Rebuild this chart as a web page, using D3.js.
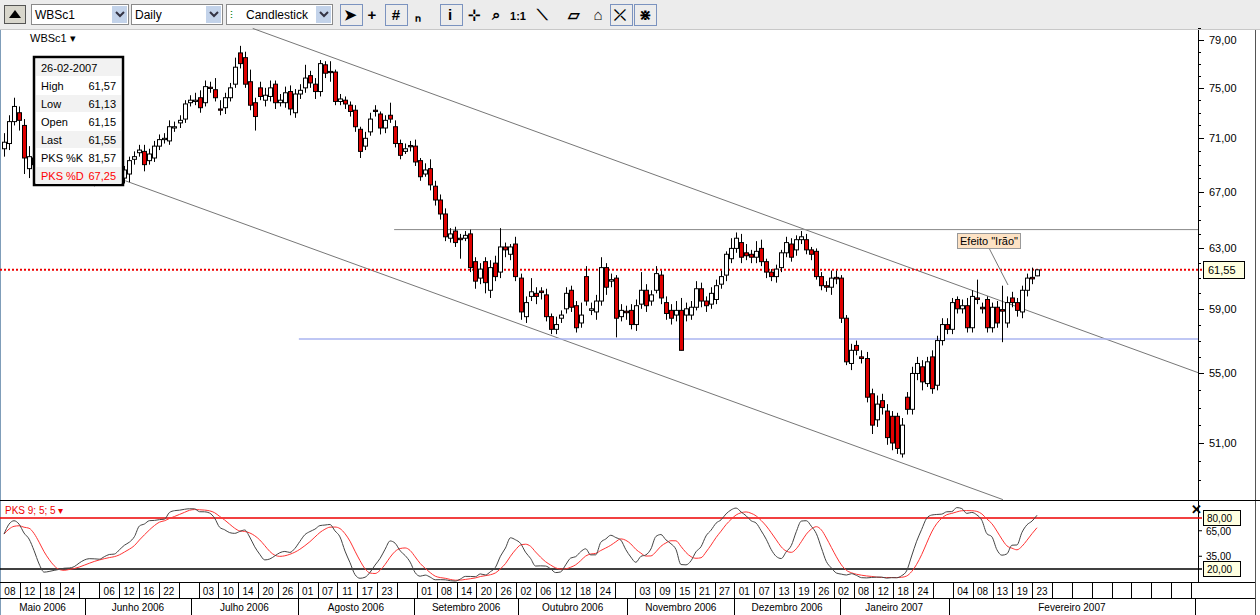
<!DOCTYPE html>
<html><head><meta charset="utf-8">
<script src="https://cdn.jsdelivr.net/npm/d3@7/dist/d3.min.js"></script>
<style>
body{margin:0;background:#fff;overflow:hidden}
svg{display:block;font-family:"Liberation Sans",Arial,sans-serif}
</style></head><body>
<svg id="chart" width="1260" height="615"></svg>
<script>
// price bars, 08-05-2006 .. 26-02-2007
const opens=[70.2,70.6,72.3,73.0,72.0,68.7,69.5,69.0,68.4,68.8,69.5,70.0,69.2,68.6,68.0,68.5,69.1,68.7,68.2,67.8,68.3,68.9,68.5,67.9,
68.0,68.3,69.4,69.9,70.0,69.3,69.5,70.4,70.9,70.8,71.8,72.2,72.5,73.8,73.9,74.2,73.8,75.05,74.85,73.3,73.4,74.2,75.3,77.9,77.5,75.5,
73.8,75.0,74.0,74.3,75.3,73.8,73.8,74.7,73.0,74.5,75.0,76.0,75.3,74.7,76.9,76.35,76.3,73.9,74.0,73.6,73.2,71.7,70.4,71.5,73.2,72.9,
71.8,72.8,71.9,70.6,70.0,70.45,70.4,69.3,68.3,68.7,67.4,66.4,65.4,63.7,64.2,63.7,63.7,64.0,62.1,61.0,62.1,60.2,62.0,61.4,63.1,62.6,
63.3,61.0,58.5,59.8,60.0,60.15,59.9,58.5,57.7,58.4,59.0,60.2,59.2,58.1,61.1,58.9,58.8,59.5,61.7,60.8,61.0,58.5,58.85,58.9,58.0,59.3,
60.2,59.5,60.2,61.2,59.4,58.9,58.6,58.9,58.6,58.6,59.1,60.3,59.5,59.3,59.6,60.6,61.2,62.3,63.0,63.4,62.7,62.6,62.4,63.0,62.1,61.4,
61.1,61.7,62.7,63.3,62.9,63.6,63.6,62.9,62.8,61.1,60.5,60.4,61.05,61.0,58.4,55.6,56.7,56.0,55.9,53.8,52.3,53.4,52.8,52.5,52.5,50.4,
53.6,52.9,55.0,55.4,54.4,56.0,54.3,57.0,58.0,57.7,59.6,59.0,59.2,57.8,59.7,59.1,59.6,57.8,59.1,58.95,58.1,59.7,59.4,58.8,60.2,61.05,61.15];
const closes=[70.7,72.3,73.5,72.4,69.5,69.6,69.0,68.4,68.8,69.5,70.0,69.2,68.6,68.0,68.5,69.1,68.7,68.2,67.8,68.3,68.9,68.5,67.9,68.2,
68.6,69.3,69.6,70.1,69.0,69.8,70.4,70.9,71.0,71.9,71.9,72.4,73.7,74.0,74.0,73.4,75.1,74.95,74.2,73.2,74.2,75.0,76.7,77.0,75.3,73.6,
72.7,74.3,74.4,75.0,73.8,74.0,74.6,73.3,74.5,74.8,75.8,75.4,74.7,77.0,76.2,76.25,73.9,74.1,73.7,73.1,71.9,70.0,71.0,72.5,73.1,71.8,
72.4,72.5,70.6,69.7,70.2,70.35,69.2,68.1,68.6,67.5,66.4,65.4,63.8,64.0,63.4,63.6,63.9,61.7,60.8,61.6,60.7,61.7,61.1,63.1,62.9,63.1,
61.1,58.8,59.4,60.1,59.8,60.05,58.5,57.7,58.0,58.6,60.0,59.1,57.8,58.6,59.5,59.0,59.5,61.7,60.4,60.9,58.4,58.9,58.75,58.0,59.2,60.2,
59.2,59.9,61.3,59.7,58.7,58.4,58.9,56.4,59.0,59.1,60.3,59.5,59.2,60.0,60.5,61.1,62.6,63.0,63.7,62.4,62.5,62.4,62.8,62.1,61.4,61.1,
61.6,62.7,63.4,62.4,63.6,63.8,62.9,62.6,61.1,60.5,60.4,61.0,60.95,58.4,55.7,56.4,56.4,55.9,53.6,52.0,53.2,53.0,51.3,51.0,50.7,52.0,
52.9,55.0,55.6,54.5,55.7,54.1,57.0,58.0,57.7,59.4,59.0,59.2,57.8,59.8,59.6,59.0,57.8,59.1,58.1,58.85,59.4,59.4,58.9,60.2,61.0,60.95,61.55];
const highs=[71.4,72.8,74.2,73.5,72.5,70.4,69.9,69.4,69.2,69.9,70.4,70.4,69.6,69.0,68.9,69.5,69.5,69.1,68.5,68.7,69.3,69.3,68.9,68.6,
68.9,69.6,70.0,70.5,70.5,70.2,70.8,71.3,71.4,72.4,72.3,72.8,74.0,74.4,74.6,74.8,75.6,75.5,75.8,74.0,74.6,75.4,77.5,78.5,78.0,76.5,
74.2,75.5,75.0,75.6,75.6,74.5,75.1,75.2,74.9,75.3,76.9,76.4,75.8,77.3,77.2,77.2,76.5,74.5,74.3,73.9,73.6,71.9,71.5,73.0,73.6,73.1,
72.8,73.8,72.4,70.9,70.6,70.8,70.9,69.5,69.1,69.4,67.8,66.8,65.8,64.4,64.5,64.0,64.2,64.3,62.4,62.0,62.4,62.2,62.5,64.4,63.4,63.3,
63.8,61.3,59.8,61.0,60.4,60.4,60.3,58.7,58.5,58.9,60.4,60.5,59.5,59.4,61.8,59.4,59.9,62.4,62.0,61.3,61.2,59.3,59.2,59.3,59.6,61.4,
60.6,60.2,61.8,61.5,59.8,59.3,59.5,59.7,59.4,59.5,60.8,60.7,59.8,60.4,60.9,61.5,62.8,63.7,64.1,64.0,63.3,62.9,63.5,63.6,62.3,61.6,
61.9,62.9,63.8,63.7,63.9,64.2,64.0,63.1,63.0,61.4,60.8,61.5,61.5,61.2,58.6,56.8,57.0,56.4,56.3,54.1,53.7,53.8,53.2,52.8,52.7,52.4,
53.9,55.4,56.0,55.8,56.0,56.4,57.3,58.4,58.4,59.7,59.8,59.6,59.7,60.2,60.9,59.4,59.8,59.4,59.5,60.5,59.8,60.1,59.7,60.5,61.3,61.7,61.57];
const lows=[69.6,70.1,72.0,71.6,68.3,68.0,68.6,68.0,68.1,68.5,69.2,68.8,68.2,67.6,67.7,68.3,68.3,67.8,67.4,67.5,68.0,68.1,67.5,67.6,
67.6,67.7,69.0,69.6,68.5,69.0,69.2,70.1,70.6,70.5,71.5,71.8,72.2,73.5,73.6,73.0,73.5,74.6,73.9,72.8,72.9,73.9,75.0,76.6,75.0,73.2,
71.6,74.0,73.5,73.9,73.3,73.5,73.4,72.8,72.6,74.1,74.6,75.0,74.1,74.3,75.8,75.5,73.6,73.6,73.3,72.7,71.5,69.5,70.1,71.2,72.7,71.3,
71.4,72.2,70.3,69.4,69.8,70.0,68.9,67.8,68.1,67.1,66.0,65.0,63.5,63.4,63.1,62.3,63.5,61.4,60.3,60.6,60.0,59.7,60.8,61.0,62.4,62.2,
60.8,58.3,58.1,59.5,59.3,59.6,58.2,57.4,57.4,58.1,58.7,58.8,57.5,57.8,59.2,58.6,58.3,59.2,59.9,60.4,57.2,58.2,58.3,57.7,57.6,59.0,
58.8,59.2,60.0,59.3,58.3,58.0,58.2,56.4,58.2,58.3,58.9,59.1,58.8,59.0,59.3,60.3,60.8,62.0,62.7,62.0,62.2,62.0,62.0,61.8,61.0,60.8,
60.7,61.4,62.4,62.1,62.5,63.3,62.6,62.2,60.9,60.2,60.1,59.9,60.6,58.1,55.5,55.2,56.1,55.6,53.3,51.5,51.9,52.6,50.9,50.6,50.4,50.2,
52.6,52.6,54.6,54.0,54.2,53.8,54.0,56.7,57.4,57.4,58.7,58.7,57.5,57.5,59.3,58.7,57.5,57.5,57.8,56.9,57.8,59.1,58.5,58.4,59.8,60.6,61.13];

const priceTicks=[51,55,59,63,67,71,75,79];
const priceTickLabels=["51,00","55,00","59,00","63,00","67,00","71,00","75,00","79,00"];
const dayLabels=["08","12","18","24","","06","12","16","22","","03","10","14","20","26","01","07","11","17","23","",
"01","08","14","20","26","02","06","12","18","24","","03","09","15","21","27","01","07","13","19","26","02","08","12","18","24","",
"04","08","13","19","23","","","","","","","",""];
const monthNames=["Maio 2006","Junho 2006","Julho 2006","Agosto 2006","Setembro 2006","Outubro 2006","Novembro 2006","Dezembro 2006","Janeiro 2007","Fevereiro 2007"];
const monthEdges=[0,4.28,9.62,15.0,20.86,26.1,31.6,37.0,42.3,47.8,60.2];
const lastPrice=61.55;
const infoRows=[["26-02-2007",""],["High","61,57"],["Low","61,13"],["Open","61,15"],["Last","61,55"],["PKS %K","81,57"],["PKS %D","67,25"]];

const svg=d3.select("#chart");
const plotRight=1198;

const x=d3.scaleLinear().domain([0,206]).range([4,1037]);
const y=d3.scaleLog().domain([51,79]).range([443,40]);
const ys=d3.scaleLinear().domain([0,100]).range([586,501]);
const cx=d3.scaleLinear().domain([0,60]).range([0,1191]);

// toolbar
svg.append("rect").attr("x",0).attr("y",0).attr("width",1260).attr("height",29).attr("fill","#ececec");
svg.append("line").attr("x1",0).attr("x2",1260).attr("y1",29.5).attr("y2",29.5).attr("stroke","#c8c8c8");
svg.append("rect").attr("x",4.5).attr("y",5.5).attr("width",21).attr("height",18).attr("fill","#d8d6cc").attr("stroke","#555");
svg.append("path").attr("d","M9,18 L15,10 L21,18Z").attr("fill","#000");
const combos=[[31,97,"WBSc1"],[131,91,"Daily"],[226,106,"Candlestick"]];
combos.forEach(c=>{
  svg.append("rect").attr("x",c[0]+0.5).attr("y",4.5).attr("width",c[1]).attr("height",20).attr("fill","#fff").attr("stroke","#8a8a8a");
  svg.append("rect").attr("x",c[0]+c[1]-16).attr("y",6).attr("width",15).attr("height",17).attr("fill","#c3d3ea");
  svg.append("path").attr("d",`M${c[0]+c[1]-12},12 l4,4 l4,-4`).attr("fill","none").attr("stroke","#334").attr("stroke-width",2);
  svg.append("text").attr("x",c[0]+(c[2]=="Candlestick"?20:4)).attr("y",19).attr("font-size",12).text(c[2]);
});
svg.append("text").attr("x",230).attr("y",19).attr("font-size",11).attr("fill","#070").text("⫶");
const icons=[[350,"➤"],[372,"+"],[396,"#"],[418,"ₙ"],[450,"i"],[474,"⊹"],[496,"⌕"],[518,"1:1"],[542,"⟍"],[574,"▱"],[598,"⌂"],[620,"⤫"],[645,"⋇"]];
icons.forEach(ic=>svg.append("text").attr("x",ic[0]).attr("y",20).attr("text-anchor","middle").attr("font-size",ic[1]=="1:1"?11:15).attr("font-weight","bold").text(ic[1]));
[[340,22],[385,22],[440,22],[610,22],[634,22]].forEach(b=>svg.append("rect").attr("x",b[0]+0.5).attr("y",4.5).attr("width",b[1]).attr("height",21).attr("fill","none").attr("stroke","#7b93bf"));

// frame
svg.append("line").attr("x1",0.5).attr("x2",0.5).attr("y1",30).attr("y2",615).attr("stroke","#7f9db9");
svg.append("line").attr("x1",plotRight+0.5).attr("x2",plotRight+0.5).attr("y1",30).attr("y2",582).attr("stroke","#000");
svg.append("line").attr("x1",1255.5).attr("x2",1255.5).attr("y1",30).attr("y2",615).attr("stroke","#555");
svg.append("text").attr("x",30).attr("y",42).attr("font-size",11).text("WBSc1 ▾");

// right price axis
const minor=d3.range(49,81);
svg.append("g").selectAll("line").data(minor).join("line")
  .attr("x1",plotRight).attr("x2",plotRight+3).attr("y1",d=>Math.round(y(d))+0.5).attr("y2",d=>Math.round(y(d))+0.5).attr("stroke","#000");
svg.append("g").selectAll("line").data(priceTicks).join("line")
  .attr("x1",plotRight).attr("x2",plotRight+6).attr("y1",d=>Math.round(y(d))+0.5).attr("y2",d=>Math.round(y(d))+0.5).attr("stroke","#000");
svg.append("g").selectAll("text").data(priceTicks).join("text")
  .attr("x",1209).attr("y",d=>y(d)+4).attr("font-size",11).text((d,i)=>priceTickLabels[i]);

const main=svg.append("g");
// drawn lines
const segs=[
  {a:[49.6,80.0],b:[238.8,55.05],c:"#777",w:1},
  {a:[24.2,67.8],b:[199.2,47.96],c:"#777",w:1},
  {a:[77.8,64.3],b:[238.8,64.3],c:"#888",w:1},
  {a:[58.8,57.1],b:[238.8,57.1],c:"#aab4f0",w:1.5}
];
main.selectAll(".seg").data(segs).join("line").attr("class","seg")
  .attr("x1",d=>x(d.a[0])).attr("y1",d=>y(d.a[1])).attr("x2",d=>Math.min(plotRight,x(d.b[0]))).attr("y2",d=>y(d.b[1]))
  .attr("stroke",d=>d.c).attr("stroke-width",d=>d.w);
main.append("line").attr("x1",0).attr("x2",plotRight+4).attr("y1",y(lastPrice)).attr("y2",y(lastPrice))
  .attr("stroke","#e00").attr("stroke-width",2).attr("stroke-dasharray","2,2");

// candles
const idx=d3.range(opens.length);
main.selectAll(".wick").data(idx).join("line").attr("class","wick")
  .attr("x1",i=>Math.round(x(i))+0.5).attr("x2",i=>Math.round(x(i))+0.5)
  .attr("y1",i=>y(highs[i])).attr("y2",i=>y(lows[i])).attr("stroke","#000");
main.selectAll(".body").data(idx).join("rect").attr("class","body")
  .attr("x",i=>Math.round(x(i))-1.5).attr("width",4)
  .attr("y",i=>y(Math.max(opens[i],closes[i])))
  .attr("height",i=>Math.max(1,Math.abs(y(opens[i])-y(closes[i]))))
  .attr("fill",i=>closes[i]>=opens[i]?"#fff":"#e00000").attr("stroke","#000");

// annotation
svg.append("line").attr("x1",989).attr("y1",248).attr("x2",1008).attr("y2",285).attr("stroke","#777");
svg.append("rect").attr("x",957.5).attr("y",233.5).attr("width",63).attr("height",15).attr("fill","#fde2c4").attr("stroke","#999");
svg.append("text").attr("x",960).attr("y",245).attr("font-size",11).text("Efeito \"Irão\"");

// last price label
svg.append("rect").attr("x",1203.5).attr("y",261.5).attr("width",41).attr("height",17).attr("fill","#ffffe1").attr("stroke","#000");
svg.append("text").attr("x",1208).attr("y",274).attr("font-size",11).text("61,55");

// info box
const info=svg.append("g");
info.append("rect").attr("x",34).attr("y",57).attr("width",89).attr("height",128).attr("fill","#fff").attr("stroke","#000").attr("stroke-width",2.5);
infoRows.forEach((r,i)=>{
  const yy=59+i*18;
  if(i%2==0) info.append("rect").attr("x",36).attr("y",yy).attr("width",85).attr("height",17).attr("fill","#f2f2f2");
  const col=i==6?"#f00":"#000";
  info.append("text").attr("x",41).attr("y",yy+13).attr("font-size",11).attr("fill",col).text(r[0]);
  info.append("text").attr("x",116).attr("y",yy+13).attr("font-size",11).attr("text-anchor","end").attr("fill",col).text(r[1]);
});

// stochastic pane (PKS 9;5;5)
const rawK=idx.map(i=>{
  const s=Math.max(0,i-8);
  const hh=d3.max(highs.slice(s,i+1)), ll=d3.min(lows.slice(s,i+1));
  return hh>ll?100*(closes[i]-ll)/(hh-ll):50;
});
const sma=(arr,n)=>arr.map((v,i)=>d3.mean(arr.slice(Math.max(0,i-n+1),i+1)));
const kLine=sma(rawK,5);
const dLine=sma(kLine,5);

svg.append("line").attr("x1",0).attr("x2",1260).attr("y1",500.5).attr("y2",500.5).attr("stroke","#000");
svg.append("clipPath").attr("id","pane").append("rect").attr("x",0).attr("y",502).attr("width",plotRight).attr("height",80);
svg.append("line").attr("x1",0).attr("x2",plotRight+4).attr("y1",ys(80)).attr("y2",ys(80)).attr("stroke","#e00").attr("stroke-width",1.5);
svg.append("line").attr("x1",0).attr("x2",plotRight+4).attr("y1",ys(20)).attr("y2",ys(20)).attr("stroke","#000").attr("stroke-width",1.5);
const pane=svg.append("g").attr("clip-path","url(#pane)");
const ln=arr=>d3.line().x((d,i)=>x(i)).y(d=>ys(d)).curve(d3.curveMonotoneX)(arr);
pane.append("path").attr("d",ln(dLine)).attr("fill","none").attr("stroke","#f33").attr("stroke-width",1);
pane.append("path").attr("d",ln(kLine)).attr("fill","none").attr("stroke","#444").attr("stroke-width",1);
svg.append("text").attr("x",5).attr("y",514).attr("font-size",10).attr("fill","#e00").text("PKS 9; 5; 5 ▾");
svg.append("text").attr("x",1191).attr("y",514).attr("font-size",13).attr("font-weight","bold").text("✕");
[[65,"65,00"],[35,"35,00"]].forEach(t=>{
  svg.append("line").attr("x1",plotRight).attr("x2",plotRight+4).attr("y1",ys(t[0])).attr("y2",ys(t[0])).attr("stroke","#000");
  svg.append("text").attr("x",1206).attr("y",ys(t[0])+4).attr("font-size",10).text(t[1]);
});
[[80,"80,00"],[20,"20,00"]].forEach(t=>{
  svg.append("rect").attr("x",1203.5).attr("y",ys(t[0])-7.5).attr("width",37).attr("height",15).attr("fill","#ffffe1").attr("stroke","#000");
  svg.append("text").attr("x",1207).attr("y",ys(t[0])+4).attr("font-size",10).text(t[1]);
});

// date axis
const ax=svg.append("g");
ax.append("rect").attr("x",1).attr("y",582).attr("width",1254).attr("height",33).attr("fill","#fff");
ax.append("line").attr("x1",0).attr("x2",1255).attr("y1",582.5).attr("y2",582.5).attr("stroke","#000");
ax.append("line").attr("x1",0).attr("x2",1255).attr("y1",598.5).attr("y2",598.5).attr("stroke","#000");
ax.selectAll(".cell").data(d3.range(1,61)).join("line").attr("class","cell")
  .attr("x1",d=>Math.round(cx(d))+0.5).attr("x2",d=>Math.round(cx(d))+0.5).attr("y1",583).attr("y2",598).attr("stroke","#000");
ax.selectAll(".day").data(dayLabels).join("text").attr("class","day")
  .attr("x",(d,i)=>cx(i+0.5)).attr("y",595).attr("text-anchor","middle").attr("font-size",10).text(d=>d);
ax.selectAll(".msep").data(monthEdges.slice(1)).join("line").attr("class","msep")
  .attr("x1",d=>Math.round(cx(d))+0.5).attr("x2",d=>Math.round(cx(d))+0.5).attr("y1",599).attr("y2",615).attr("stroke","#000");
ax.selectAll(".mon").data(monthNames).join("text").attr("class","mon")
  .attr("x",(d,i)=>cx((monthEdges[i]+monthEdges[i+1])/2)).attr("y",611).attr("text-anchor","middle").attr("font-size",10).text(d=>d);
</script>
</body></html>
